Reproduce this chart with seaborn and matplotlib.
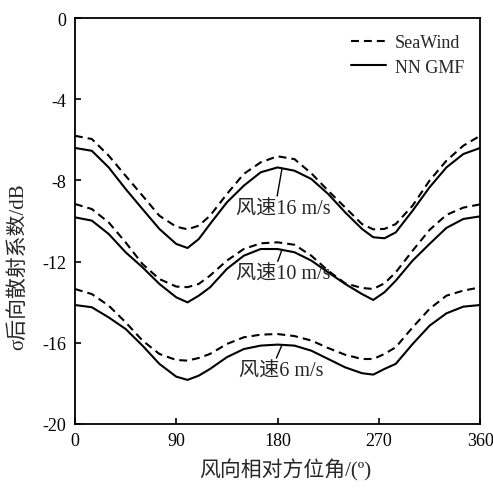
import numpy as np
import pandas as pd
import seaborn as sns
import matplotlib.pyplot as plt

# wind direction relative azimuth (deg)
angle = [0, 15, 30, 45, 60, 75, 90, 100, 110, 120, 135, 150, 165, 180,
         195, 210, 225, 240, 255, 265, 275, 285, 300, 315, 330, 345, 360]

# SeaWind (dashed) and NN GMF (solid), sigma0 in dB
sw16 = [-5.80, -5.96, -6.78, -7.77, -8.75, -9.74, -10.28, -10.41, -10.23, -9.74, -8.67, -7.68, -7.11, -6.81,
        -6.95, -7.65, -8.51, -9.33, -10.15, -10.41, -10.39, -10.15, -9.24, -8.01, -7.03, -6.29, -5.80]
nn16 = [-6.40, -6.54, -7.36, -8.42, -9.41, -10.39, -11.13, -11.33, -10.89, -10.15, -9.08, -8.26, -7.60, -7.36,
        -7.52, -7.93, -8.67, -9.57, -10.39, -10.80, -10.85, -10.56, -9.49, -8.34, -7.36, -6.70, -6.40]
sw10 = [-9.16, -9.41, -10.07, -11.05, -12.12, -12.86, -13.23, -13.26, -13.10, -12.69, -11.95, -11.38, -11.10, -11.05,
        -11.17, -11.71, -12.45, -13.07, -13.30, -13.35, -13.07, -12.53, -11.46, -10.44, -9.70, -9.34, -9.18]
nn10 = [-9.82, -9.98, -10.64, -11.54, -12.28, -13.10, -13.76, -14.01, -13.68, -13.27, -12.36, -11.71, -11.38, -11.38,
        -11.54, -11.95, -12.53, -13.10, -13.60, -13.89, -13.51, -12.94, -11.95, -11.13, -10.34, -9.90, -9.77]
sw6 = [-13.35, -13.60, -14.17, -14.99, -15.89, -16.55, -16.85, -16.88, -16.75, -16.55, -16.06, -15.73, -15.60, -15.57,
       -15.67, -15.89, -16.26, -16.59, -16.80, -16.80, -16.55, -16.22, -15.24, -14.33, -13.68, -13.43, -13.27]
nn6 = [-14.14, -14.25, -14.75, -15.32, -16.14, -17.04, -17.67, -17.83, -17.62, -17.29, -16.71, -16.31, -16.14, -16.09,
       -16.14, -16.39, -16.80, -17.21, -17.50, -17.57, -17.29, -17.04, -16.06, -15.16, -14.55, -14.22, -14.14]

series = {('SeaWind', 16): sw16, ('NN GMF', 16): nn16,
          ('SeaWind', 10): sw10, ('NN GMF', 10): nn10,
          ('SeaWind', 6): sw6, ('NN GMF', 6): nn6}

# long-form table for seaborn
rows = []
for (model, speed), vals in series.items():
    for a, v in zip(angle, vals):
        rows.append([a, v, model, speed])
df = pd.DataFrame(rows, columns=['angle', 'sigma', 'model', 'speed'])

xticks = [0, 90, 180, 270, 360]
yticks = [0, -4, -8, -12, -16, -20]

sns.set_style('ticks')
plt.rcParams['font.family'] = ['Liberation Serif', 'Noto Sans CJK SC']
plt.rcParams['axes.unicode_minus'] = False

fig = plt.figure(figsize=(4.93, 4.89), dpi=100)
ax = fig.add_axes([0.152, 0.131, 0.822, 0.830])

sns.lineplot(data=df, x='angle', y='sigma', style='model', units='speed', estimator=None,
             style_order=['SeaWind', 'NN GMF'], dashes={'SeaWind': (3.8, 2.4), 'NN GMF': ''},
             color='black', linewidth=1.5, ax=ax)

ax.set_xlim(0, 360)
ax.set_ylim(-20, 0)
ax.set_xticks(xticks)
ax.set_yticks(yticks)
ax.tick_params(direction='in', length=4, width=1.2, labelsize=13, colors='black', pad=6)
for s in ax.spines.values():
    s.set_linewidth(1.3)
    s.set_color('black')

ax.set_xlabel('风向相对方位角/(º)', fontsize=15)
ax.xaxis.set_label_coords(0.519, -0.085)
ax.set_ylabel('σ后向散射系数/dB', fontsize=15)
ax.yaxis.set_label_coords(-0.116, 0.39)

leg = ax.legend(loc='upper right', bbox_to_anchor=(1.0, 1.0), frameon=False, fontsize=13,
                handlelength=1.9, handletextpad=0.5, labelspacing=0.4)
for h in leg.get_lines():
    h.set_linewidth(1.5)

labels = [('风速16 m/s', (184, -7.40), (185, -9.40)),
          ('风速10 m/s', (184, -11.40), (185, -12.62)),
          ('风速6 m/s', (184, -16.10), (183, -17.38))]
for txt, xy, xyt in labels:
    ax.annotate(txt, xy=xy, xytext=xyt, ha='center', va='center', fontsize=14.5,
                arrowprops=dict(arrowstyle='-', color='black', lw=1.0,
                                shrinkA=0, shrinkB=0, relpos=(0.43, 1.0)))

fig.savefig('out.png', dpi=100)
